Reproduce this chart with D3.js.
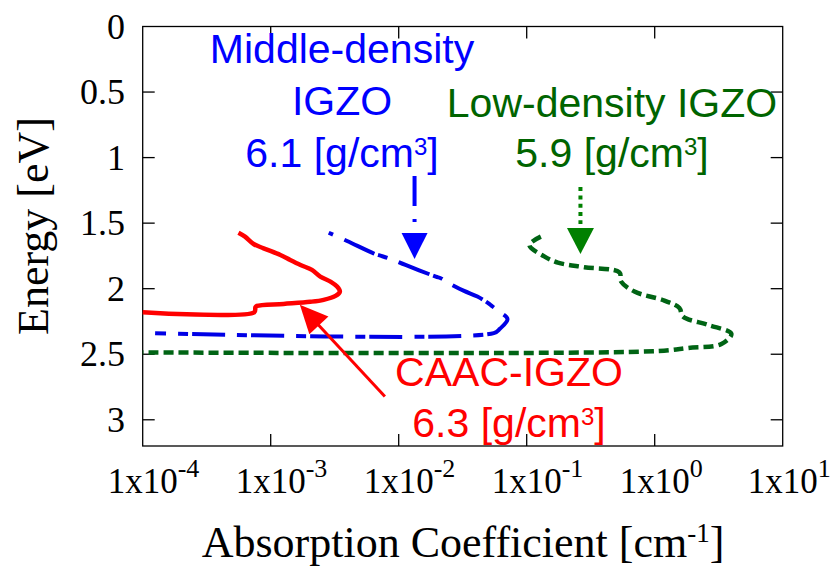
<!DOCTYPE html>
<html>
<head>
<meta charset="utf-8">
<script src="https://cdn.jsdelivr.net/npm/d3@7"></script>
<style>
  html, body { margin: 0; padding: 0; background: #fff; }
  svg { display: block; }
</style>
</head>
<body>
<svg id="chart" width="832" height="567"></svg>
<script>
// Sub-gap absorption of IGZO films: absorption coefficient (cm^-1) vs photon energy (eV)

// CAAC-IGZO, 6.3 g/cm3
const caacAlpha  = [5.6e-4, 6.3e-4, 7.35e-4, 8.8e-4, 1.19e-3, 1.42e-3, 1.71e-3, 2.10e-3, 2.44e-3, 2.93e-3, 3.30e-3, 3.47e-3, 3.21e-3, 2.59e-3, 2.04e-3, 1.26e-3, 7.8e-4, 7.6e-4, 7.45e-4, 1e-4];
const caacEnergy = [1.573, 1.603, 1.659, 1.692, 1.743, 1.781, 1.819, 1.857, 1.908, 1.946, 1.984, 2.022, 2.055, 2.085, 2.100, 2.116, 2.131, 2.141, 2.179, 2.179];

// Middle-density IGZO, 6.1 g/cm3
const midAlpha  = [2.84e-3, 3.95e-3, 6.6e-3, 7.2e-3, 8.65e-3, 0.0113, 0.0195, 0.0213, 0.0247, 0.0324, 0.0412, 0.0494, 0.0541, 0.0610, 0.0708, 0.0617, 0.0553, 1.25e-4];
const midEnergy = [1.573, 1.636, 1.737, 1.748, 1.773, 1.819, 1.908, 1.920, 1.958, 2.017, 2.060, 2.106, 2.136, 2.174, 2.232, 2.306, 2.339, 2.339];

// Low-density IGZO, 5.9 g/cm3
const lowAlpha  = [0.129, 0.105, 0.137, 0.175, 0.282, 0.530, 0.547, 0.695, 1.19, 1.56, 1.66, 2.61, 3.97, 3.32, 1.82, 1.06, 1e-4];
const lowEnergy = [1.603, 1.667, 1.754, 1.801, 1.836, 1.876, 1.946, 2.022, 2.091, 2.148, 2.212, 2.276, 2.344, 2.422, 2.452, 2.476, 2.486];

// Axis ticks
const xTickExponents = [-4, -3, -2, -1, 0, 1];
const yTickValues = [0, 0.5, 1, 1.5, 2, 2.5, 3];

// Arrow annotations: [alpha, energy at tail, energy at tip]
const midArrow = [0.0133, 1.14, 1.773];
const lowArrow = [0.263, 1.225, 1.735];
// CAAC arrow: tail (alpha, energy) and tip (alpha, energy)
const caacArrowTail = [7.8e-3, 2.823];
const caacArrowTip  = [1.69e-3, 2.123];

const svg = d3.select('#chart');
const plot = { left: 142.7, right: 782.7, top: 26.5, bottom: 446 };

const x = d3.scaleLog().domain([1e-4, 1e1]).range([plot.left, plot.right]);
const y = d3.scaleLinear().domain([0, 3.2]).range([plot.top, plot.bottom]);

const serif = "'Liberation Serif', 'Times New Roman', Times, serif";
const sans = "'Liberation Sans', Arial, Helvetica, sans-serif";

// Frame
svg.append('rect')
  .attr('x', plot.left).attr('y', plot.top)
  .attr('width', plot.right - plot.left).attr('height', plot.bottom - plot.top)
  .attr('fill', 'none').attr('stroke', '#000').attr('stroke-width', 1.3);

// Inward ticks on all four sides
const tickLen = 12;
const ticks = svg.append('g').attr('stroke', '#000').attr('stroke-width', 1.3);
xTickExponents.slice(1, -1).forEach(e => {
  const px = x(Math.pow(10, e));
  ticks.append('line').attr('x1', px).attr('x2', px).attr('y1', plot.bottom).attr('y2', plot.bottom - tickLen);
  ticks.append('line').attr('x1', px).attr('x2', px).attr('y1', plot.top).attr('y2', plot.top + tickLen);
});
yTickValues.slice(1).forEach(v => {
  const py = y(v);
  ticks.append('line').attr('x1', plot.left).attr('x2', plot.left + tickLen).attr('y1', py).attr('y2', py);
  ticks.append('line').attr('x1', plot.right).attr('x2', plot.right - tickLen).attr('y1', py).attr('y2', py);
});

// Y tick labels
svg.append('g').selectAll('text').data(yTickValues).join('text')
  .attr('x', 125).attr('y', d => y(d)).attr('dy', '0.34em')
  .attr('text-anchor', 'end')
  .attr('font-family', serif).attr('font-size', 36)
  .text(d => String(d));

// X tick labels: "1x10" centred on the tick, exponent as superscript
const xLab = svg.append('g').attr('font-family', serif).attr('font-size', 35);
const probe = xLab.append('text').text('1x10');
const baseW = probe.node().getComputedTextLength();
probe.remove();
xTickExponents.forEach(e => {
  const t = xLab.append('text')
    .attr('x', x(Math.pow(10, e)) - baseW / 2)
    .attr('y', 493);
  t.append('tspan').text('1x10');
  t.append('tspan').attr('font-size', 26).attr('dy', -16).text(String(e));
});

// Axis titles
svg.append('text')
  .attr('transform', 'translate(48,226) rotate(-90)')
  .attr('text-anchor', 'middle')
  .attr('font-family', serif).attr('font-size', 44)
  .text('Energy [eV]');

const xt = svg.append('text')
  .attr('x', 463).attr('y', 557)
  .attr('text-anchor', 'middle')
  .attr('font-family', serif).attr('font-size', 44);
xt.append('tspan').text('Absorption Coefficient [cm');
xt.append('tspan').attr('font-size', 27).attr('dy', -15).text('-1');
xt.append('tspan').attr('dy', 15).text(']');

// Curves
const line = d3.line()
  .x(d => x(d[0])).y(d => y(d[1]))
  .curve(d3.curveCatmullRom.alpha(0.5));

const zip = (a, b) => a.map((v, i) => [v, b[i]]);

svg.append('path')
  .attr('d', line(zip(lowAlpha, lowEnergy)))
  .attr('fill', 'none').attr('stroke', '#006414').attr('stroke-width', 4.5)
  .attr('stroke-dasharray', '10,5');

svg.append('path')
  .attr('d', line(zip(midAlpha, midEnergy)))
  .attr('fill', 'none').attr('stroke', '#0000e6').attr('stroke-width', 4)
  .attr('stroke-dasharray', '33,4,10,12').attr('stroke-dashoffset', 42);

svg.append('path')
  .attr('d', line(zip(caacAlpha, caacEnergy)))
  .attr('fill', 'none').attr('stroke', '#ff0000').attr('stroke-width', 4.5)
  .attr('stroke-linejoin', 'round');

// Arrow heads: triangle with the tip at (tx, ty) pointing along (ux, uy)
function head(tx, ty, ux, uy, len, half) {
  const n = Math.hypot(ux, uy); ux /= n; uy /= n;
  const bx = tx - ux * len, by = ty - uy * len;
  return `M${tx},${ty}L${bx - uy * half},${by + ux * half}L${bx + uy * half},${by - ux * half}Z`;
}

// Middle-density arrow (dash-dot stem)
{
  const px = x(midArrow[0]);
  const y0 = y(midArrow[1]), tip = y(midArrow[2]);
  svg.append('line').attr('x1', px).attr('x2', px).attr('y1', y0).attr('y2', tip - 26)
    .attr('stroke', '#0000ff').attr('stroke-width', 4).attr('stroke-dasharray', '30,13,3,11');
  svg.append('path').attr('d', head(px, tip, 0, 1, 26, 13)).attr('fill', '#0000ff');
}

// Low-density arrow (dotted stem)
{
  const px = x(lowArrow[0]);
  const y0 = y(lowArrow[1]), tip = y(lowArrow[2]);
  svg.append('line').attr('x1', px).attr('x2', px).attr('y1', y0).attr('y2', tip - 30)
    .attr('stroke', '#008000').attr('stroke-width', 4).attr('stroke-dasharray', '4,4.3');
  svg.append('path').attr('d', head(px, tip, 0, 1, 26, 13.5)).attr('fill', '#008000');
}

// CAAC arrow
{
  const tx = x(caacArrowTip[0]), ty = y(caacArrowTip[1]);
  const sx = x(caacArrowTail[0]), sy = y(caacArrowTail[1]);
  const ux = tx - sx, uy = ty - sy, n = Math.hypot(ux, uy);
  svg.append('line').attr('x1', sx).attr('y1', sy)
    .attr('x2', tx - ux / n * 24).attr('y2', ty - uy / n * 24)
    .attr('stroke', '#ff0000').attr('stroke-width', 3);
  svg.append('path').attr('d', head(tx, ty, ux, uy, 28, 13)).attr('fill', '#ff0000');
}

// Labels
function label(lines, cx, baselines, color) {
  lines.forEach((parts, i) => {
    const t = svg.append('text')
      .attr('x', cx).attr('y', baselines[i])
      .attr('text-anchor', 'middle')
      .attr('font-family', sans).attr('font-size', 41)
      .attr('fill', color);
    let shift = 0;
    parts.forEach(p => {
      const s = t.append('tspan').text(p.text);
      if (p.sup) { s.attr('font-size', 24).attr('dy', -12); shift = 12; }
      else if (shift) { s.attr('dy', shift); shift = 0; }
    });
  });
}
const unit = v => [{ text: v + ' [g/cm' }, { text: '3', sup: true }, { text: ']' }];

label([[{ text: 'Middle-density' }], [{ text: 'IGZO' }], unit('6.1')], 342, [63, 115, 167], '#0000ff');
label([[{ text: 'Low-density IGZO' }], unit('5.9')], 612, [116.5, 167], '#006400');
label([[{ text: 'CAAC-IGZO' }], unit('6.3')], 509, [385.5, 436.5], '#ff0000');
</script>
</body>
</html>
